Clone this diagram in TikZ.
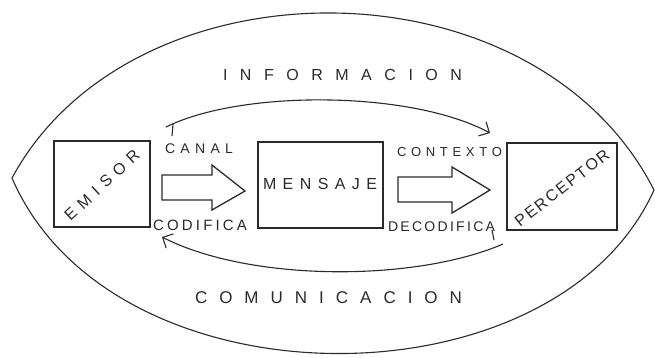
\documentclass[tikz,border=0pt]{standalone}
\usepackage{fontspec}
\setmainfont{Liberation Sans}
\usetikzlibrary{arrows.meta}
\definecolor{ink}{HTML}{2A2A2A}
\def\SpreadEnd{SpreadEnd}
\def\SpreadWord#1#2{\makebox[#1][s]{\SpreadFirst#2\SpreadEnd}}
\def\SpreadFirst#1{#1\SpreadNext}
\def\SpreadNext#1{\ifx#1\SpreadEnd\else\hfil#1\expandafter\SpreadNext\fi}
\tikzset{
  boxnode/.style={draw=ink, line width=1.3pt, inner sep=0pt},
  lbl/.style={inner sep=0pt, text=ink},
  blockarrow/.style={draw=ink, line width=1.3pt, line join=miter},
  flow/.style={draw=ink, line width=1.1pt},
  barb/.style={-{Straight Barb[length=8pt,width=16pt,line width=1.1pt]}}
}
\begin{document}
\begin{tikzpicture}[x=1pt,y=-1pt]
\useasboundingbox (0,0) rectangle (655,357);
% lens outline
\coordinate (lensL) at (12,178);
\coordinate (lensR) at (654,190);
\draw[flow] (lensL) .. controls (132,-44) and (535,-44) .. (lensR)
                    .. controls (555,410) and (112,410) .. (lensL);
% boxes
\node[boxnode, minimum width=96pt, minimum height=86pt] (emisor) at (102,184) {};
\node[boxnode, minimum width=125pt, minimum height=86pt] (mensaje) at (320.5,185) {};
\node[boxnode, minimum width=110pt, minimum height=87pt] (perceptor) at (562,186.5) {};
% box texts
\node[lbl, font=\fontsize{16}{16}\selectfont, rotate=43] (emisorT) at (102,185) {\SpreadWord{96pt}{EMISOR}};
\node[lbl, font=\fontsize{16}{16}\selectfont] (mensajeT) at (320,184) {\SpreadWord{114pt}{MENSAJE}};
\node[lbl, font=\fontsize{16}{16}\selectfont, rotate=38] (perceptorT) at (562,188) {\SpreadWord{115pt}{PERCEPTOR}};
% labels
\node[lbl, font=\fontsize{14}{14}\selectfont] (canal) at (199,149) {\SpreadWord{68pt}{CANAL}};
\node[lbl, font=\fontsize{15}{15}\selectfont] (codifica) at (200,225) {\SpreadWord{94pt}{CODIFICA}};
\node[lbl, font=\fontsize{13}{13}\selectfont] (contexto) at (449.5,152) {\SpreadWord{105pt}{CONTEXTO}};
\node[lbl, font=\fontsize{14}{14}\selectfont] (decodifica) at (441.5,227) {\SpreadWord{107pt}{DECODIFICA}};
\node[lbl, font=\fontsize{16}{16}\selectfont] (informacion) at (342.5,75) {\SpreadWord{239pt}{INFORMACION}};
\node[lbl, font=\fontsize{17}{17}\selectfont] (comunicacion) at (328.5,298) {\SpreadWord{267pt}{COMUNICACION}};
% block arrows
\draw[blockarrow] (162,175) -- (212,175) -- (212,165) -- (245,191) -- (212,210) -- (212,200) -- (162,200) -- cycle;
\draw[blockarrow] (398,177) -- (452,177) -- (452,167) -- (490,190) -- (452,213) -- (452,202) -- (398,202) -- cycle;
% curved arrows
\coordinate (topS) at (166,127);
\coordinate (topE) at (490,133);
\coordinate (topStem) at (172,136);
\draw[flow, barb] (topS) .. controls (240,90) and (410,90) .. (topE);
\draw[flow] (173,124) -- (topStem);
\coordinate (botS) at (503,244);
\coordinate (botE) at (162,237);
\coordinate (botStem) at (492,230);
\draw[flow, barb] (botS) .. controls (415,282) and (250,282) .. (botE);
\draw[flow] (494,240) -- (botStem);
\end{tikzpicture}
\end{document}
